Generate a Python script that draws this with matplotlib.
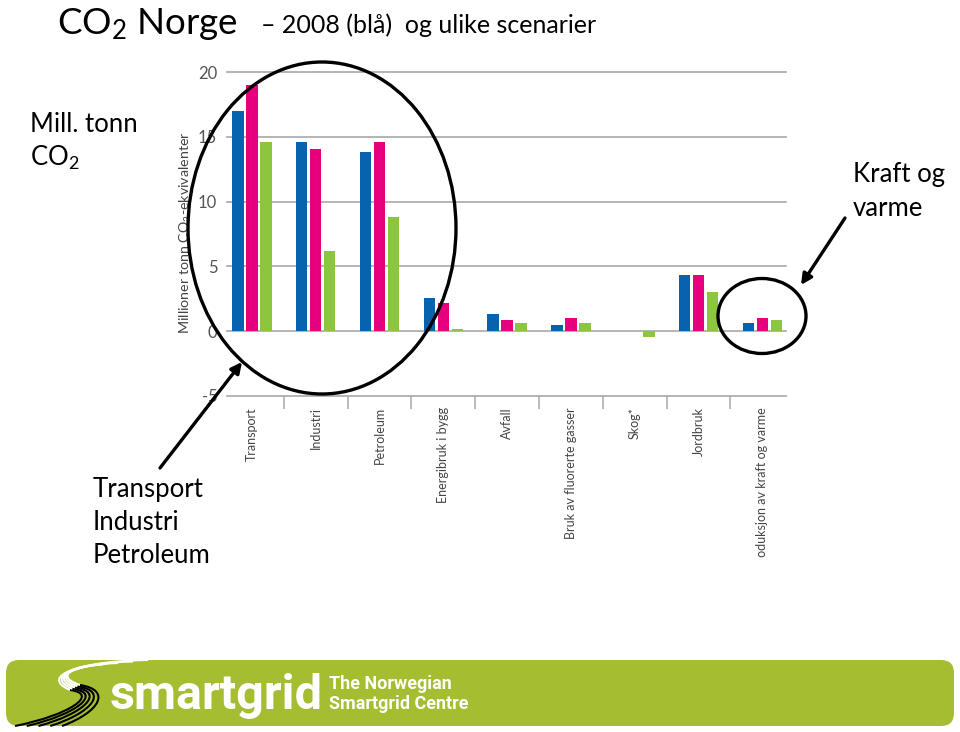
import numpy as np
import matplotlib
matplotlib.use("Agg")
import matplotlib.pyplot as plt
from matplotlib.patches import Ellipse, FancyArrowPatch, FancyBboxPatch, PathPatch
from matplotlib.path import Path
from matplotlib.transforms import Bbox, TransformedBbox

plt.rcParams['font.family'] = ['Lato', 'DejaVu Sans']
plt.rcParams['mathtext.default'] = 'regular'

# Data (millioner tonn CO2-ekvivalenter)
categories = ["Transport", "Industri", "Petroleum", "Energibruk i bygg", "Avfall",
              "Bruk av fluorerte gasser", "Skog*", "Jordbruk",
              "Produksjon av kraft og varme"]
val_2008 = [17.0, 14.6, 13.8, 2.6, 1.3, 0.5, 0.0, 4.35, 0.6]
val_scen_a = [19.0, 14.05, 14.6, 2.2, 0.9, 1.0, 0.0, 4.35, 1.0]
val_scen_b = [14.6, 6.2, 8.85, 0.2, 0.65, 0.65, -0.45, 3.05, 0.9]
y_ticks = [-5, 0, 5, 10, 15, 20]

c_blue = '#0862ad'
c_pink = '#e6007e'
c_green = '#8cc63f'
c_grid = '#a8a8a8'

W, H = 960, 732
fig = plt.figure(figsize=(W / 100, H / 100), dpi=100)

# chart area in pixels
x0, x1 = 227, 786
y_top, y_bot = 72, 396
ax = fig.add_axes([x0 / W, 1 - y_bot / H, (x1 - x0) / W, (y_bot - y_top) / H])

x = np.arange(len(categories))
bw = 0.18
off = 0.22
ax.bar(x - off, val_2008, bw, color=c_blue, zorder=3)
ax.bar(x, val_scen_a, bw, color=c_pink, zorder=3)
ax.bar(x + off, val_scen_b, bw, color=c_green, zorder=3)

ax.set_xlim(-0.39, 8.37)
ax.set_ylim(-5, 20)
for s in ['top', 'right', 'left']:
    ax.spines[s].set_visible(False)
ax.spines['bottom'].set_color(c_grid)
ax.spines['bottom'].set_linewidth(1.2)
for v in y_ticks[1:]:
    ax.axhline(v, color=c_grid, lw=1.2, zorder=1, clip_on=False)

ax.set_yticks(y_ticks)
ax.set_yticklabels([str(v) for v in y_ticks])
ax.tick_params(axis='y', length=0, pad=7, labelsize=12, labelcolor='#555555')

ax.set_xticks(x)
ax.set_xticklabels(categories, rotation=90, fontsize=9, color='#444444', va='top')
ax.tick_params(axis='x', which='major', length=0, pad=8)
ax.set_xticks(x[:-1] + 0.5, minor=True)
ax.tick_params(axis='x', which='minor', length=9, width=1.1, color=c_grid, direction='out')

# last label is cut off by the picture edge
clip = TransformedBbox(Bbox.from_extents(0, 1 - 558 / H, 1, 1), fig.transFigure)
last = ax.get_xticklabels()[-1]
last.set_clip_box(clip)
last.set_clip_on(True)

fig.text(186 / W, 1 - 233 / H, "Millioner tonn CO$_2$-ekvivalenter", rotation=90,
         ha='center', va='center', fontsize=10.3, color='#444444')

# overlay in pixel coordinates
ov = fig.add_axes([0, 0, 1, 1], zorder=10)
ov.set_xlim(0, W)
ov.set_ylim(H, 0)
ov.axis('off')
ov.patch.set_alpha(0)

ov.text(57, 34, "CO$_2$ Norge", fontsize=26.5, va='baseline', ha='left')
ov.text(261, 33, "– 2008 (blå)  og ulike scenarier", fontsize=18, va='baseline', ha='left')

ov.text(30, 132, "Mill. tonn", fontsize=18.5, va='baseline')
ov.text(30, 166, "CO$_2$", fontsize=18.5, va='baseline')
ov.text(853, 182, "Kraft og", fontsize=18.5, va='baseline')
ov.text(853, 216, "varme", fontsize=18.5, va='baseline')
ov.text(93, 497, "Transport", fontsize=18.5, va='baseline')
ov.text(93, 530, "Industri", fontsize=18.5, va='baseline')
ov.text(93, 563, "Petroleum", fontsize=18.5, va='baseline')

ov.add_patch(Ellipse((322, 228), 268, 332, fill=False, lw=2.4, ec='black'))
ov.add_patch(Ellipse((762, 316), 88, 75, fill=False, lw=2.4, ec='black'))
ov.add_patch(FancyArrowPatch((160, 468), (242, 362), arrowstyle='-|>', mutation_scale=16,
                             lw=2.4, color='black', shrinkA=0, shrinkB=0))
ov.add_patch(FancyArrowPatch((845, 218), (801, 285), arrowstyle='-|>', mutation_scale=16,
                             lw=2.4, color='black', shrinkA=0, shrinkB=0))

# footer band with logo swoosh
ov.add_patch(FancyBboxPatch((6, 660), 948, 66, boxstyle='round,pad=0,rounding_size=13',
                            fc='#a4bd31', ec='none'))
codes = [Path.MOVETO, Path.CURVE4, Path.CURVE4, Path.CURVE4]
w_out = np.array([(148, 660), (80, 661), (38, 676), (70, 690)])
w_in = np.array([(88, 666), (68, 668), (58, 678), (80, 685)])
b_out = np.array([(70, 690), (100, 694), (70, 715), (15, 726)])
b_in = np.array([(80, 685), (112, 690), (100, 712), (62, 726)])
for t in np.linspace(0, 1, 5):
    ov.add_patch(PathPatch(Path(w_out + t * (w_in - w_out), codes),
                           fc='none', ec='white', lw=1.5))
    ov.add_patch(PathPatch(Path(b_out + t * (b_in - b_out), codes),
                           fc='none', ec='black', lw=1.5))

ov.text(110, 709, "smartgrid", fontsize=35, fontweight='bold', color='white',
        family=['Roboto', 'DejaVu Sans'], va='baseline')
ov.text(329, 689, "The Norwegian", fontsize=13, fontweight='bold', color='white',
        family=['Roboto', 'DejaVu Sans'], va='baseline')
ov.text(329, 709, "Smartgrid Centre", fontsize=13, fontweight='bold', color='white',
        family=['Roboto', 'DejaVu Sans'], va='baseline')

fig.savefig("out.png", dpi=100, facecolor='white')
